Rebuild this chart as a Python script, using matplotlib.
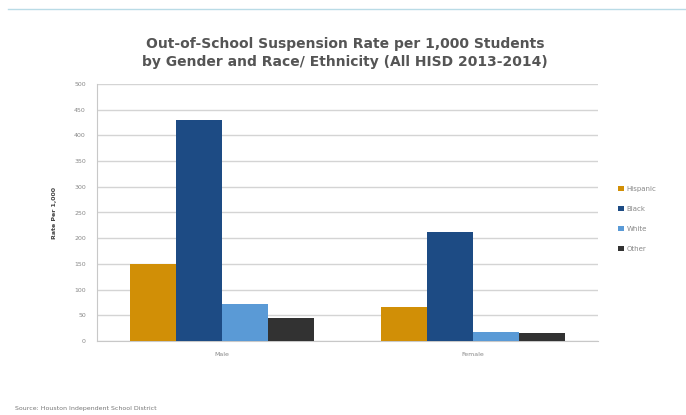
import matplotlib
matplotlib.use("Agg")
import matplotlib.pyplot as plt
import numpy as np

categories = ["Male", "Female"]
series_names = ["Hispanic", "Black", "White", "Other"]
hispanic = [150, 66]
black = [430, 212]
white = [72, 17]
other = [45, 16]
yticks = [0, 50, 100, 150, 200, 250, 300, 350, 400, 450, 500]

colors = ["#D18F06", "#1D4B84", "#5A9AD6", "#323232"]
values = [hispanic, black, white, other]

fig = plt.figure(figsize=(6.86, 4.15), dpi=100)
W, H = 686, 415
ax = fig.add_axes([97 / W, 1 - 341 / H, (598 - 97) / W, (341 - 84) / H])

x = np.arange(len(categories))
bw = 0.184
for i, (name, vals, c) in enumerate(zip(series_names, values, colors)):
    ax.bar(x + (i - 1.5) * bw, vals, width=bw, color=c, label=name, zorder=3)

ax.set_xlim(-0.5, 1.5)
ax.set_ylim(0, 500)
ax.set_yticks(yticks)
ax.set_yticklabels([str(t) for t in yticks], fontsize=4.5, color="#888888")
ax.set_xticks(x)
ax.set_xticklabels(categories, fontsize=4.5, color="#888888")
ax.tick_params(axis="both", length=0, pad=8)
ax.grid(axis="y", color="#d4d4d4", linewidth=1.0, zorder=0)
for s in ["top", "right"]:
    ax.spines[s].set_visible(False)
ax.spines["left"].set_color("#c8c8c8")
ax.spines["bottom"].set_color("#c8c8c8")
ax.set_ylabel("Rate Per 1,000", fontsize=4.5, fontweight="bold", color="#444444", labelpad=12)

leg = ax.legend(loc="center left", bbox_to_anchor=(612 / W, 1 - 219 / H), bbox_transform=fig.transFigure,
                frameon=False, fontsize=5, handlelength=0.8, handleheight=0.8,
                labelspacing=2.0, handletextpad=0.4)
for t in leg.get_texts():
    t.set_color("#888888")

fig.text(345 / W, 1 - 53 / H,
         "Out-of-School Suspension Rate per 1,000 Students\nby Gender and Race/ Ethnicity (All HISD 2013-2014)",
         ha="center", va="center", fontsize=10, fontweight="bold", color="#555555", linespacing=1.35)

fig.text(15 / W, 1 - 408 / H, "Source: Houston Independent School District", fontsize=4.5, color="#777777",
         ha="left", va="center")

fig.add_artist(plt.Line2D([8 / W, 1], [1 - 9 / H, 1 - 9 / H], transform=fig.transFigure,
                          color="#b9dbe6", linewidth=1.0))

fig.savefig("out.png", dpi=100)
